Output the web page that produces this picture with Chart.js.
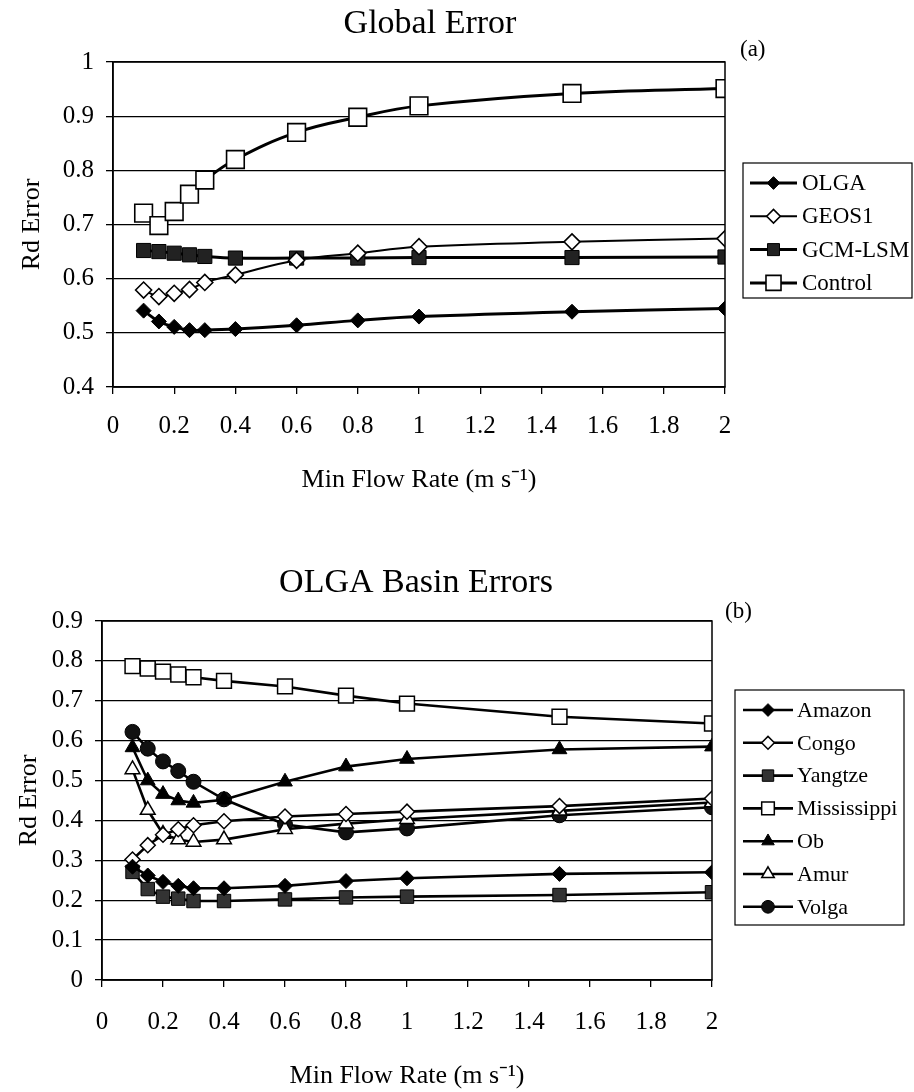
<!DOCTYPE html>
<html><head><meta charset="utf-8">
<script src="https://cdn.jsdelivr.net/npm/chart.js@4.4.1/dist/chart.umd.min.js"></script>
<style>
html,body{margin:0;padding:0;background:#fff;}
#wrap{position:relative;width:914px;height:1092px;overflow:hidden;}
canvas{position:absolute;left:0;}
</style></head><body>
<div id="wrap">
<canvas id="c1" width="914" height="500" style="top:0;width:914px;height:500px"></canvas>
<canvas id="c2" width="914" height="592" style="top:500px;width:914px;height:592px"></canvas>
</div>
<script>
const FONT = '"Liberation Serif", "Times New Roman", serif';

// x values (Min Flow Rate, m/s)
const flowRates = [0.1, 0.15, 0.2, 0.25, 0.3, 0.4, 0.6, 0.8, 1, 1.5, 2];

// (a) Global Error
const globalOLGA    = [0.541, 0.521, 0.511, 0.505, 0.505, 0.507, 0.514, 0.523, 0.530, 0.539, 0.545];
const globalGEOS1   = [0.579, 0.567, 0.573, 0.580, 0.593, 0.607, 0.634, 0.647, 0.659, 0.668, 0.674];
const globalGCMLSM  = [0.652, 0.650, 0.647, 0.644, 0.641, 0.638, 0.638, 0.638, 0.639, 0.639, 0.640];
const globalControl = [0.721, 0.698, 0.724, 0.756, 0.782, 0.820, 0.870, 0.898, 0.919, 0.942, 0.951];

// (b) OLGA Basin Errors
const basinAmazon      = [0.284, 0.262, 0.246, 0.236, 0.230, 0.230, 0.236, 0.248, 0.255, 0.266, 0.270];
const basinCongo       = [0.302, 0.338, 0.364, 0.378, 0.388, 0.398, 0.410, 0.416, 0.422, 0.436, 0.455];
const basinYangtze     = [0.271, 0.228, 0.209, 0.204, 0.198, 0.198, 0.202, 0.207, 0.209, 0.213, 0.220];
const basinMississippi = [0.787, 0.781, 0.773, 0.766, 0.759, 0.750, 0.736, 0.713, 0.693, 0.660, 0.643];
const basinOb          = [0.583, 0.500, 0.466, 0.450, 0.444, 0.452, 0.497, 0.535, 0.554, 0.578, 0.585];
const basinAmur        = [0.528, 0.426, 0.366, 0.352, 0.346, 0.352, 0.378, 0.392, 0.403, 0.424, 0.445];
const basinVolga       = [0.622, 0.580, 0.548, 0.524, 0.497, 0.453, 0.390, 0.370, 0.380, 0.413, 0.433];

const yTicksGlobal = { min: 0.4, max: 1.0, step: 0.1 };
const yTicksBasin  = { min: 0.0, max: 0.9, step: 0.1 };
const xTicks       = { min: 0, max: 2, step: 0.2 };

function pts(ys) { return flowRates.map((x, i) => ({ x: x, y: ys[i] })); }
function fmt(v) { return String(Math.round(v * 10) / 10); }

function ds(label, ys, style, fill, r, lw, pbw, tension) {
  return {
    label: label, data: pts(ys),
    borderColor: '#000', borderWidth: lw, backgroundColor: fill,
    pointStyle: style, pointRadius: r, pointHoverRadius: r,
    pointBackgroundColor: fill, pointBorderColor: '#000', pointBorderWidth: pbw,
    tension: tension, fill: false
  };
}

function drawMarker(ctx, style, r, x, y, bw) {
  if (Chart.helpers && Chart.helpers.drawPoint) {
    Chart.helpers.drawPoint(ctx, { pointStyle: style, radius: r, rotation: 0, borderWidth: bw }, x, y);
    return;
  }
  ctx.beginPath();
  if (style === 'circle') ctx.arc(x, y, r, 0, Math.PI * 2);
  else if (style === 'rect') { const s = r * Math.SQRT1_2; ctx.rect(x - s, y - s, 2 * s, 2 * s); }
  else if (style === 'rectRot') { ctx.moveTo(x - r, y); ctx.lineTo(x, y - r); ctx.lineTo(x + r, y); ctx.lineTo(x, y + r); ctx.closePath(); }
  else if (style === 'triangle') { for (let k = 0; k < 3; k++) { const a = k * 2 * Math.PI / 3; const px = x + Math.sin(a) * r, py = y - Math.cos(a) * r; k ? ctx.lineTo(px, py) : ctx.moveTo(px, py); } ctx.closePath(); }
  ctx.fill(); if (bw > 0) ctx.stroke();
}

const decorPlugin = {
  id: 'decor',
  afterDraw(chart, args, o) {
    const ctx = chart.ctx, a = chart.chartArea;
    ctx.save();
    ctx.strokeStyle = '#000'; ctx.lineWidth = 1.5;
    ctx.strokeRect(a.left, a.top, a.right - a.left, a.bottom - a.top);
    ctx.fillStyle = '#000'; ctx.textBaseline = 'alphabetic';
    ctx.font = '34px ' + FONT; ctx.textAlign = 'center';
    ctx.fillText(o.title, o.titleX, o.titleY);
    ctx.font = '23px ' + FONT; ctx.textAlign = 'left';
    ctx.fillText(o.tag, o.tagX, o.tagY);
    const L = o.box;
    ctx.lineWidth = 1.2; ctx.strokeStyle = '#000';
    ctx.strokeRect(L.left, L.top, L.width, L.height);
    chart.data.datasets.forEach((d, i) => {
      const y = L.firstRow + i * L.rowGap;
      ctx.strokeStyle = '#000'; ctx.lineWidth = d.borderWidth;
      ctx.beginPath(); ctx.moveTo(L.lineX1, y); ctx.lineTo(L.lineX2, y); ctx.stroke();
      ctx.fillStyle = d.pointBackgroundColor; ctx.lineWidth = d.pointBorderWidth;
      drawMarker(ctx, d.pointStyle, d.pointRadius * 0.85, (L.lineX1 + L.lineX2) / 2, y, d.pointBorderWidth);
      ctx.fillStyle = '#000'; ctx.font = L.fontSize + 'px ' + FONT;
      ctx.textAlign = 'left'; ctx.textBaseline = 'middle';
      ctx.fillText(d.label, L.textX, y + 1);
    });
    ctx.restore();
  }
};

function makeScales(yt, yWidth, xHeight, xLabelPad, xTitlePadBottom, yTitlePadTop) {
  return {
    x: {
      type: 'linear', min: xTicks.min, max: xTicks.max,
      ticks: { stepSize: xTicks.step, color: '#000', font: { family: FONT, size: 25 }, padding: xLabelPad, maxRotation: 0, callback: fmt },
      grid: { drawOnChartArea: false, drawTicks: true, tickLength: 7, color: '#000', lineWidth: 1.3 },
      border: { display: true, color: '#000', width: 1.5 },
      title: { display: true, text: 'Min Flow Rate (m s\u207B\u00B9)', color: '#000', font: { family: FONT, size: 26 }, padding: { top: 0, bottom: xTitlePadBottom } },
      afterFit: s => { s.height = xHeight; }
    },
    y: {
      type: 'linear', min: yt.min, max: yt.max,
      ticks: { stepSize: yt.step, color: '#000', font: { family: FONT, size: 25 }, padding: 12, callback: fmt },
      grid: { color: '#000', lineWidth: 1.3, tickLength: 7, drawTicks: true },
      border: { display: true, color: '#000', width: 1.5 },
      title: { display: true, text: 'Rd Error', color: '#000', font: { family: FONT, size: 26 }, padding: { top: yTitlePadTop, bottom: 0 } },
      afterFit: s => { s.width = yWidth; }
    }
  };
}

new Chart(document.getElementById('c1'), {
  type: 'line',
  data: { datasets: [
    ds('OLGA', globalOLGA, 'rectRot', '#000', 7.5, 3, 1, 0.4),
    ds('GEOS1', globalGEOS1, 'rectRot', '#fff', 8, 2, 1.6, 0.4),
    ds('GCM-LSM', globalGCMLSM, 'rect', '#222', 10, 3, 1, 0.4),
    ds('Control', globalControl, 'rect', '#fff', 12.5, 3, 1.6, 0.4)
  ]},
  options: {
    responsive: false, animation: false, devicePixelRatio: 1,
    layout: { padding: { left: 0, top: 62, right: 189, bottom: 0 } },
    scales: makeScales(yTicksGlobal, 113, 113, 17, 4, 17),
    plugins: {
      legend: { display: false }, tooltip: { enabled: false },
      decor: {
        title: 'Global Error', titleX: 430, titleY: 33,
        tag: '(a)', tagX: 740, tagY: 56,
        box: { left: 743, top: 163, width: 169, height: 135, firstRow: 183, rowGap: 33.3, lineX1: 750, lineX2: 797, textX: 802, fontSize: 23 }
      }
    }
  },
  plugins: [decorPlugin]
});

new Chart(document.getElementById('c2'), {
  type: 'line',
  data: { datasets: [
    ds('Amazon', basinAmazon, 'rectRot', '#000', 7.5, 2.6, 1, 0),
    ds('Congo', basinCongo, 'rectRot', '#fff', 7.5, 2.6, 1.5, 0),
    ds('Yangtze', basinYangtze, 'rect', '#333', 9.5, 2.6, 1, 0),
    ds('Mississippi', basinMississippi, 'rect', '#fff', 10.5, 2.6, 1.5, 0),
    ds('Ob', basinOb, 'triangle', '#000', 8.5, 2.6, 1, 0),
    ds('Amur', basinAmur, 'triangle', '#fff', 8.5, 2.6, 1.5, 0),
    ds('Volga', basinVolga, 'circle', '#111', 7.5, 2.6, 1, 0)
  ]},
  options: {
    responsive: false, animation: false, devicePixelRatio: 1,
    layout: { padding: { left: 0, top: 121, right: 202, bottom: 0 } },
    scales: makeScales(yTicksBasin, 102, 112, 20, 0, 14),
    plugins: {
      legend: { display: false }, tooltip: { enabled: false },
      decor: {
        title: 'OLGA Basin Errors', titleX: 416, titleY: 92,
        tag: '(b)', tagX: 725, tagY: 118,
        box: { left: 735, top: 190, width: 169, height: 235, firstRow: 210, rowGap: 32.8, lineX1: 743, lineX2: 793, textX: 797, fontSize: 22 }
      }
    }
  },
  plugins: [decorPlugin]
});
</script>
</body></html>
